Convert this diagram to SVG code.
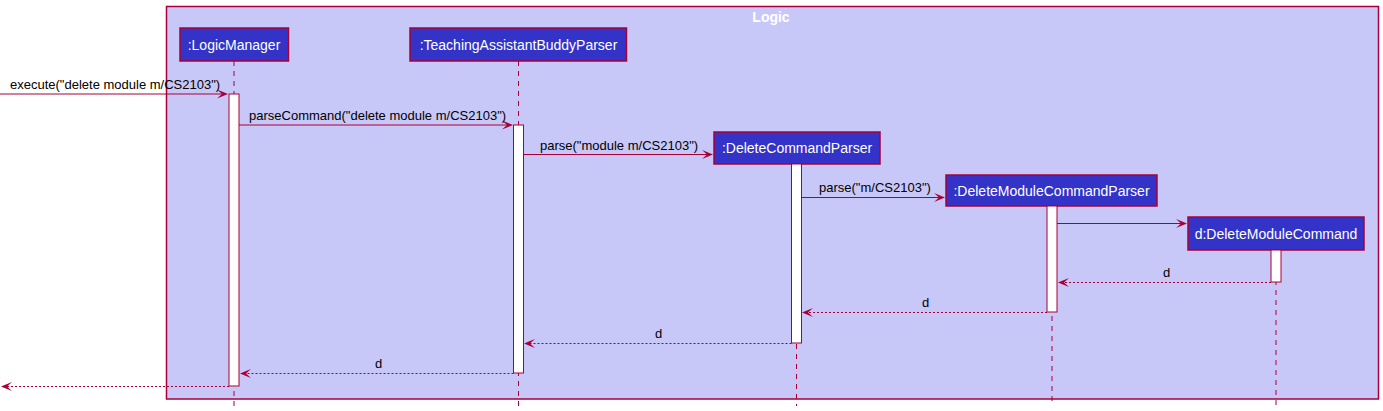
<svg xmlns="http://www.w3.org/2000/svg" width="1383" height="411" viewBox="0 0 1383 411">
<style>
.box{fill:#3333C8;stroke:#A80036;stroke-width:1.5}
.name{font-family:"Liberation Sans",Arial,sans-serif;font-size:14px;fill:#FFFFFF;text-anchor:middle}
.life{stroke:#A80036;stroke-width:1;stroke-dasharray:5,5;fill:none}
.act{fill:#FFFFFF;stroke:#A80036;stroke-width:1}
.msg{stroke:#A80036;stroke-width:1;fill:none}
.ret{stroke:#A80036;stroke-width:1;stroke-dasharray:2,2;fill:none}
.lbl{font-family:"Liberation Sans",Arial,sans-serif;font-size:13px;fill:#000000}
.head{fill:#A80036}
</style>
<rect width="1383" height="411" fill="#FFFFFF"/>
<g id="frame">
<rect x="166.5" y="6.5" width="1212" height="392.5" fill="#C8C8F8" stroke="#A80036" stroke-width="1.5"/>
<text x="771" y="22" font-family="Liberation Sans,Arial,sans-serif" font-size="14" font-weight="bold" fill="#FFFFFF" text-anchor="middle">Logic</text>
</g>
<g id="lifelines">
<line class="life" x1="234" y1="61" x2="234" y2="406"/>
<line class="life" x1="518.5" y1="61" x2="518.5" y2="406"/>
<line class="life" x1="796.5" y1="164" x2="796.5" y2="406"/>
<line class="life" x1="1052" y1="206" x2="1052" y2="406"/>
<line class="life" x1="1276" y1="250" x2="1276" y2="406"/>
</g>
<g id="n_logicmanager">
<rect class="box" x="180" y="28" width="108.5" height="33"/>
<text class="name" x="234" y="50">:LogicManager</text>
<rect class="act" x="229" y="94" width="10" height="292"/>
</g>
<g id="n_tabparser">
<rect class="box" x="410" y="28" width="216.5" height="33"/>
<text class="name" x="518.5" y="50">:TeachingAssistantBuddyParser</text>
<rect class="act" x="513.5" y="125" width="10" height="248"/>
</g>
<g id="n_deletecommandparser">
<rect class="box" x="714" y="132" width="166" height="32"/>
<text class="name" x="797" y="153">:DeleteCommandParser</text>
<rect class="act" x="791.5" y="164" width="10" height="179"/>
</g>
<g id="n_deletemodulecommandparser">
<rect class="box" x="946" y="175" width="211" height="31"/>
<text class="name" x="1051.5" y="196">:DeleteModuleCommandParser</text>
<rect class="act" x="1047" y="206" width="10" height="106"/>
</g>
<g id="n_deletemodulecommand">
<rect class="box" x="1188" y="217" width="176" height="33"/>
<text class="name" x="1276" y="239">d:DeleteModuleCommand</text>
<rect class="act" x="1271" y="250" width="10" height="32"/>
</g>
<g id="connectors">
<line class="msg" x1="0" y1="94" x2="226" y2="94"/>
<polygon class="head" points="228,94 217,89.5 222,94 217,98.5"/>
<text class="lbl" x="10" y="89">execute("delete module m/CS2103")</text>

<line class="msg" x1="239" y1="125" x2="511" y2="125"/>
<polygon class="head" points="513,125 502,120.5 507,125 502,129.5"/>
<text class="lbl" x="249" y="120">parseCommand("delete module m/CS2103")</text>

<line class="msg" x1="523.5" y1="154.5" x2="711" y2="154.5"/>
<polygon class="head" points="713,154.5 702,150 707,154.5 702,159"/>
<text class="lbl" x="540" y="150">parse("module m/CS2103")</text>

<line class="msg" x1="801.5" y1="197.5" x2="943" y2="197.5"/>
<polygon class="head" points="945,197.5 934,193 939,197.5 934,202"/>
<text class="lbl" x="819" y="192">parse("m/CS2103")</text>

<line class="msg" x1="1057" y1="223.5" x2="1185" y2="223.5"/>
<polygon class="head" points="1187,223.5 1176,219 1181,223.5 1176,228"/>

<line class="ret" x1="1271" y1="282.5" x2="1060" y2="282.5"/>
<polygon class="head" points="1058,282.5 1069,278 1064,282.5 1069,287"/>
<text class="lbl" x="1163" y="277">d</text>

<line class="ret" x1="1047" y1="312.5" x2="804" y2="312.5"/>
<polygon class="head" points="802,312.5 813,308 808,312.5 813,317"/>
<text class="lbl" x="922" y="307">d</text>

<line class="ret" x1="791.5" y1="343.5" x2="526" y2="343.5"/>
<polygon class="head" points="524,343.5 535,339 530,343.5 535,348"/>
<text class="lbl" x="655" y="338">d</text>

<line class="ret" x1="513.5" y1="373.5" x2="242" y2="373.5"/>
<polygon class="head" points="240,373.5 251,369 246,373.5 251,378"/>
<text class="lbl" x="375" y="368">d</text>

<line class="ret" x1="229" y1="386.5" x2="3" y2="386.5"/>
<polygon class="head" points="1,386.5 12,382 7,386.5 12,391"/>
</g>
</svg>
